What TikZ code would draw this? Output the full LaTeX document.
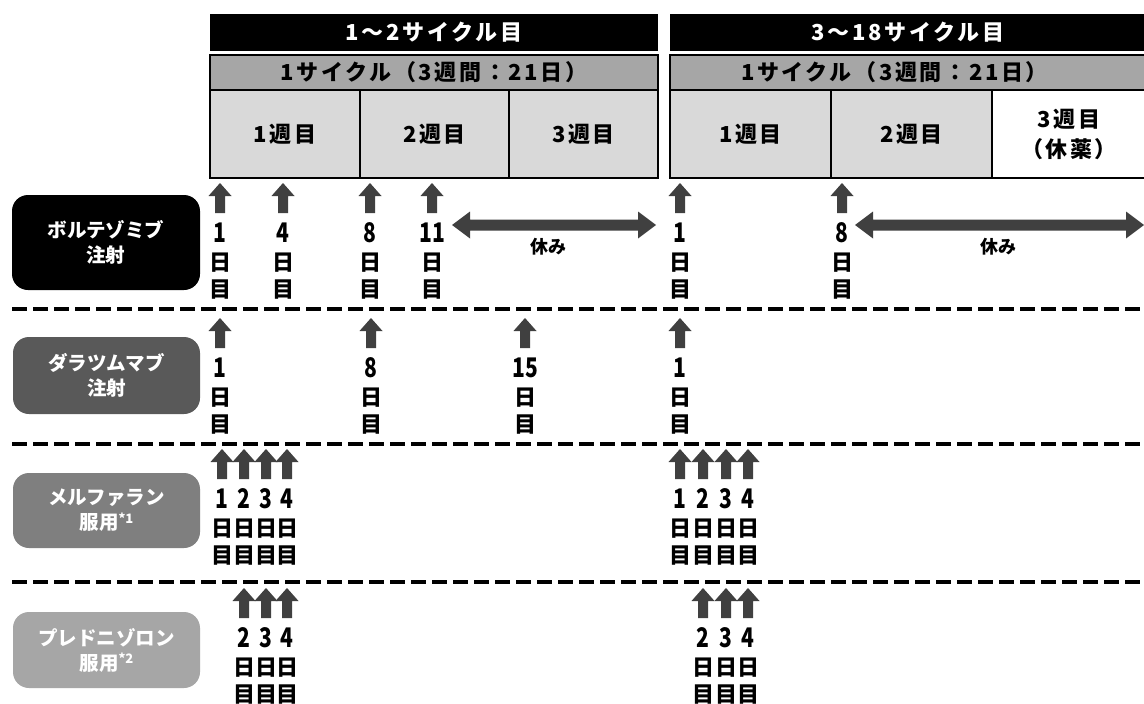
\documentclass[tikz,border=0pt]{standalone}
\usepackage{fontspec}
\setmainfont{Noto Sans CJK JP}
\newfontfamily\numfont[FakeStretch=0.78]{Noto Sans CJK JP}
\newfontfamily\hdfont[LetterSpace=12]{Noto Sans CJK JP}
\definecolor{arrowc}{HTML}{404040}
\definecolor{hdrgray}{HTML}{A6A6A6}
\definecolor{cellgray}{HTML}{D9D9D9}
\definecolor{boxtwo}{HTML}{595959}
\definecolor{boxthree}{HTML}{7F7F7F}
\definecolor{boxfour}{HTML}{A6A6A6}
\tikzset{
  every node/.style={inner sep=0pt, outer sep=0pt},
  hdrtext/.style={font=\hdfont\bfseries\fontsize{22}{30}\selectfont},
  topbar/.style={hdrtext, fill=black, text=white, anchor=north west, minimum height=37pt},
  cyclebar/.style={hdrtext, fill=hdrgray, draw=black, line width=1.5pt, anchor=north west, minimum height=35pt},
  weekcell/.style={hdrtext, fill=cellgray, draw=black, line width=1.5pt, anchor=north west, minimum height=88pt, align=center},
  drugbox/.style={rounded corners=16pt, text=white, font=\bfseries\fontsize{19.5}{25}\selectfont, align=center, anchor=north west},
  daynum/.style={font=\numfont\bfseries\fontsize{27}{27}\selectfont},
  daykj/.style={font=\bfseries\fontsize{22}{22}\selectfont},
  restlbl/.style={font=\bfseries\fontsize{18}{18}\selectfont},
  dashsep/.style={line width=3.5pt, dash pattern=on 15pt off 6pt},
  uparrow/.pic={\fill[arrowc] (0,0) -- (11.5,13) -- (5,13) -- (5,30) -- (-5,30) -- (-5,13) -- (-11.5,13) -- cycle;}
}
\newcommand\daylabel[3]{%
  \pic at (#1,#2) {uparrow};
  \node[daynum] (n#1-#2) at (#1,#2+50) {#3};
  \node[daykj] (h#1-#2) at (#1,#2+80) {日};
  \node[daykj] (m#1-#2) at (#1,#2+107) {目};
}
\newcommand\restarrow[3]{%
  \fill[arrowc] (#1,#3) -- (#1+18,#3-13.5) -- (#1+18,#3-5.5) -- (#2-18,#3-5.5)
    -- (#2-18,#3-13.5) -- (#2,#3) -- (#2-18,#3+13.5) -- (#2-18,#3+5.5)
    -- (#1+18,#3+5.5) -- (#1+18,#3+13.5) -- cycle;
}
\newcommand\supnote[1]{\raisebox{0.35em}{\fontsize{13}{13}\selectfont #1}}
\begin{document}
\begin{tikzpicture}[x=1pt,y=-1pt]
\fill[white] (0,0) rectangle (1144,704);
\useasboundingbox (0,0) rectangle (1144,704);

% header bars
\node[topbar, minimum width=448pt] (h1) at (210,14) {1〜2サイクル目};
\node[topbar, minimum width=476pt] (h2) at (670,14) {3〜18サイクル目};
\node[cyclebar, minimum width=448pt] (c1) at (210,55) {1サイクル（3週間：21日）};
\node[cyclebar, minimum width=476pt, text width=474pt, align=left] (c2) at (670,55) {\hspace*{70pt}1サイクル（3週間：21日）};

% week cells
\node[weekcell, minimum width=150pt] (w11) at (210,90) {1週目};
\node[weekcell, minimum width=149pt] (w12) at (360,90) {2週目};
\node[weekcell, minimum width=149pt] (w13) at (509,90) {3週目};
\node[weekcell, minimum width=161pt] (w21) at (670,90) {1週目};
\node[weekcell, minimum width=161pt] (w22) at (831,90) {2週目};
\node[weekcell, minimum width=154pt, fill=white, text width=150pt] (w23) at (992,90) {3週目\\（休薬）};

% drug boxes
\node[drugbox, fill=black, minimum width=188pt, minimum height=95pt] (d1) at (12,195) {ボルテゾミブ\\注射};
\node[drugbox, fill=boxtwo, minimum width=187pt, minimum height=77pt] (d2) at (13,337) {ダラツムマブ\\注射};
\node[drugbox, fill=boxthree, minimum width=187pt, minimum height=75pt] (d3) at (13,473) {メルファラン\\服用\supnote{*1}};
\node[drugbox, fill=boxfour, minimum width=187pt, minimum height=76pt] (d4) at (13,612) {プレドニゾロン\\服用\supnote{*2}};

% separators
\draw[dashsep] (12,309) -- (1146,309);
\draw[dashsep] (12,444) -- (1146,444);
\draw[dashsep] (12,582) -- (1146,582);

% row 1: bortezomib
\daylabel{220}{183}{1}
\daylabel{283}{183}{4}
\daylabel{370}{183}{8}
\daylabel{432}{183}{11}
\daylabel{680}{183}{1}
\daylabel{842}{183}{8}
\restarrow{452}{656}{225}
\node[restlbl] (r1) at (548,247) {休み};
\restarrow{855}{1144}{225}
\node[restlbl] (r2) at (998,247) {休み};

% row 2: daratumumab
\daylabel{220}{318}{1}
\daylabel{371}{318}{8}
\daylabel{525}{318}{15}
\daylabel{680}{318}{1}

% row 3: melphalan
\daylabel{222}{449}{1}
\daylabel{244}{449}{2}
\daylabel{266}{449}{3}
\daylabel{287}{449}{4}
\daylabel{680}{449}{1}
\daylabel{703}{449}{2}
\daylabel{726}{449}{3}
\daylabel{748}{449}{4}

% row 4: prednisolone
\daylabel{244}{588}{2}
\daylabel{266}{588}{3}
\daylabel{287}{588}{4}
\daylabel{703}{588}{2}
\daylabel{726}{588}{3}
\daylabel{748}{588}{4}
\end{tikzpicture}
\end{document}
